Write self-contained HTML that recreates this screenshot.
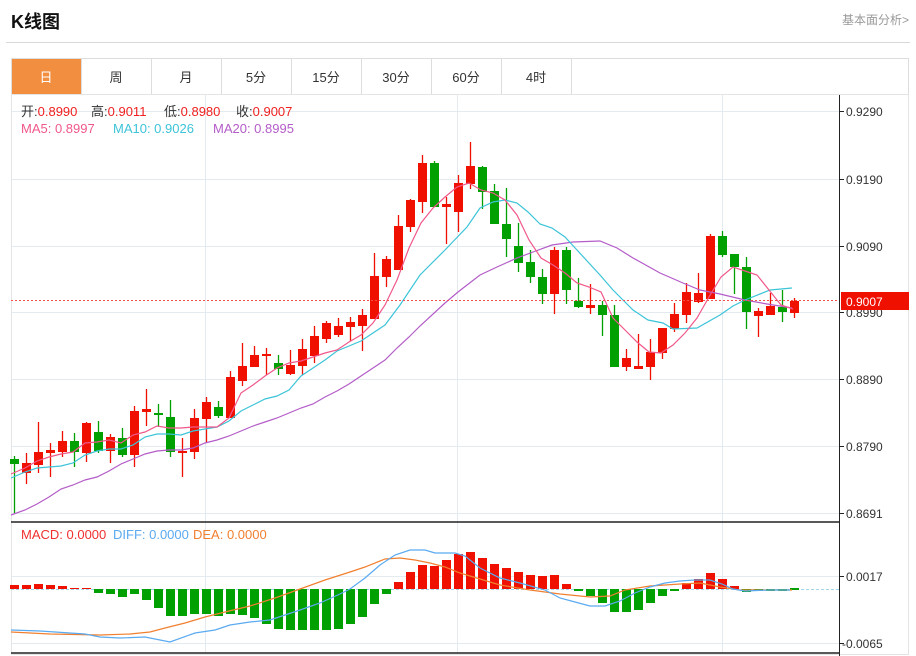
<!DOCTYPE html>
<html><head><meta charset="utf-8"><style>
body{margin:0;width:916px;height:656px;background:#fff;overflow:hidden;font-family:"Liberation Sans","Noto Sans CJK SC",sans-serif;}
</style></head><body>
<svg id="s" width="916" height="656" xmlns="http://www.w3.org/2000/svg" style="position:absolute;left:0;top:0;font-family:'Liberation Sans','Noto Sans CJK SC',sans-serif">
<text x="11" y="28" font-size="18" font-weight="bold" fill="#111">K线图</text>
<text x="842" y="24" font-size="12" fill="#999">基本面分析&gt;</text>
<line x1="6" y1="42.5" x2="910" y2="42.5" stroke="#d8d8d8"/>
<rect x="11.5" y="58.5" width="897" height="36" fill="#fff" stroke="#ddd"/>
<rect x="12" y="59" width="69" height="35" fill="#f28e3f"/>
<g stroke="#ddd"><line x1="81.5" y1="59" x2="81.5" y2="94"/><line x1="151.5" y1="59" x2="151.5" y2="94"/><line x1="221.5" y1="59" x2="221.5" y2="94"/><line x1="291.5" y1="59" x2="291.5" y2="94"/><line x1="361.5" y1="59" x2="361.5" y2="94"/><line x1="431.5" y1="59" x2="431.5" y2="94"/><line x1="501.5" y1="59" x2="501.5" y2="94"/><line x1="571.5" y1="59" x2="571.5" y2="94"/></g>
<g font-size="13" text-anchor="middle" fill="#333"><text x="46" y="82" fill="#fff">日</text><text x="116" y="82">周</text><text x="186" y="82">月</text><text x="256" y="82">5分</text><text x="326" y="82">15分</text><text x="396" y="82">30分</text><text x="466" y="82">60分</text><text x="536" y="82">4时</text></g>
<rect x="11.5" y="94.5" width="897" height="560" fill="none" stroke="#e4e4e4"/>
<g stroke="#e3eaf0"><line x1="11" y1="111.5" x2="839" y2="111.5"/><line x1="11" y1="179.5" x2="839" y2="179.5"/><line x1="11" y1="246.5" x2="839" y2="246.5"/><line x1="11" y1="312.5" x2="839" y2="312.5"/><line x1="11" y1="379.5" x2="839" y2="379.5"/><line x1="11" y1="446.5" x2="839" y2="446.5"/><line x1="11" y1="513.5" x2="839" y2="513.5"/><line x1="11" y1="576.5" x2="839" y2="576.5"/><line x1="11" y1="643.5" x2="839" y2="643.5"/><line x1="205.5" y1="95" x2="205.5" y2="653"/><line x1="457.5" y1="95" x2="457.5" y2="653"/><line x1="722.5" y1="95" x2="722.5" y2="653"/></g>
<line x1="11" y1="589.5" x2="839" y2="589.5" stroke="#9fd6ea" stroke-dasharray="3,2"/>
<g id="g"></g>
<line x1="11" y1="300.5" x2="839" y2="300.5" stroke="#f05050" stroke-dasharray="2,2"/>
<line x1="11" y1="522" x2="839" y2="522" stroke="#222" stroke-width="1.5"/>
<line x1="11" y1="653" x2="839" y2="653" stroke="#222" stroke-width="1.5"/>
<line x1="839.5" y1="95" x2="839.5" y2="656" stroke="#222"/>
<g stroke="#222"><line x1="839" y1="111.5" x2="844" y2="111.5"/><line x1="839" y1="179.5" x2="844" y2="179.5"/><line x1="839" y1="246.5" x2="844" y2="246.5"/><line x1="839" y1="312.5" x2="844" y2="312.5"/><line x1="839" y1="379.5" x2="844" y2="379.5"/><line x1="839" y1="446.5" x2="844" y2="446.5"/><line x1="839" y1="513.5" x2="844" y2="513.5"/><line x1="839" y1="576.5" x2="844" y2="576.5"/><line x1="839" y1="643.5" x2="844" y2="643.5"/></g>
<g font-size="12" fill="#333"><text x="846" y="116">0.9290</text><text x="846" y="184">0.9190</text><text x="846" y="251">0.9090</text><text x="846" y="317">0.8990</text><text x="846" y="384">0.8890</text><text x="846" y="451">0.8790</text><text x="846" y="518">0.8691</text><text x="846" y="581">0.0017</text><text x="842" y="648">-0.0065</text></g>
<rect x="841" y="292" width="68" height="18" fill="#f01000"/>
<text x="846" y="306" font-size="12" fill="#fff">0.9007</text>
<g font-size="13">
<text x="21" y="116" fill="#333">开:<tspan fill="#f02020">0.8990</tspan></text>
<text x="91" y="116" fill="#333">高:<tspan fill="#f02020">0.9011</tspan></text>
<text x="164" y="116" fill="#333">低:<tspan fill="#f02020">0.8980</tspan></text>
<text x="236" y="116" fill="#333">收:<tspan fill="#f02020">0.9007</tspan></text>
<text x="21" y="133" fill="#f0588a">MA5: 0.8997</text>
<text x="113" y="133" fill="#3cc4d8">MA10: 0.9026</text>
<text x="213" y="133" fill="#b45cc8">MA20: 0.8995</text>
<text x="21" y="539" fill="#f03030">MACD: 0.0000</text>
<text x="113" y="539" fill="#5aaaf0">DIFF: 0.0000</text>
<text x="193" y="539" fill="#f08030">DEA: 0.0000</text>
</g>
</svg>
<script>
var c=[[459,464,456,513,'g'],[463,473,453,484,'r'],[452,465,422,473,'r'],[450,453,443,477,'r'],[441,452,431,457,'r'],[441,452,433,467,'g'],[423,453,422,462,'r'],[432,451,421,453,'g'],[437,451,434,463,'r'],[438,455,428,457,'g'],[411,455,406,467,'r'],[409,412,389,426,'r'],[413,415,404,427,'g'],[417,452,400,457,'g'],[451,452,438,477,'r'],[418,452,409,459,'r'],[402,419,397,442,'r'],[407,416,401,418,'g'],[377,418,371,418,'r'],[366,381,343,386,'r'],[355,367,346,367,'r'],[354,356,348,375,'r'],[363,369,355,375,'g'],[365,374,350,375,'r'],[349,366,339,375,'r'],[336,356,326,363,'r'],[323,339,321,343,'r'],[326,335,318,337,'r'],[322,327,317,341,'r'],[315,326,309,351,'r'],[276,319,253,319,'r'],[259,277,256,287,'r'],[226,270,215,270,'r'],[200,227,199,232,'r'],[163,202,155,213,'r'],[163,207,161,207,'g'],[204,207,197,244,'r'],[183,212,175,232,'r'],[166,184,142,189,'r'],[167,192,166,209,'g'],[191,224,184,224,'g'],[224,239,188,257,'g'],[246,263,223,272,'g'],[262,277,250,283,'g'],[277,294,269,304,'g'],[250,294,247,314,'r'],[250,290,247,304,'g'],[301,307,278,308,'g'],[305,308,284,314,'r'],[305,315,301,336,'g'],[315,367,305,367,'g'],[358,367,349,371,'r'],[366,369,334,369,'r'],[352,367,339,380,'r'],[328,353,328,359,'r'],[314,329,303,332,'r'],[292,315,283,323,'r'],[293,302,273,303,'r'],[236,299,234,299,'r'],[236,255,231,257,'g'],[254,267,254,294,'g'],[267,312,257,329,'g'],[311,316,308,337,'r'],[306,315,293,315,'r'],[307,312,290,322,'g'],[301,313,298,318,'r']];
var m=[585,585,584,585,586,588,588,593,594,597,594,600,608,616,616,614,614,616,614,615,618,624,629,630,630,630,630,629,624,617,604,594,582,572,565,566,560,554,552,558,564,568,572,575,576,575,584,591,596,603,612,612,610,603,596,591,583,579,573,579,586,592,591,591,591,589];
var ma5=[[11,474],[25,468],[37,461],[49,457],[61,454],[73,452],[85,443],[97,442],[109,440],[121,443],[133,435],[145,432],[157,426],[169,428],[181,428],[193,427],[205,427],[217,427],[229,418],[241,393],[253,385],[265,376],[277,368],[289,363],[301,361],[313,357],[325,353],[337,350],[349,342],[361,335],[373,323],[385,305],[397,280],[409,248],[421,223],[433,208],[445,197],[457,187],[469,183],[481,190],[493,193],[505,200],[517,215],[529,240],[541,258],[553,265],[565,273],[577,283],[589,287],[601,292],[613,318],[625,330],[637,342],[649,352],[661,353],[673,345],[685,333],[697,318],[709,297],[721,277],[733,267],[745,271],[757,275],[769,290],[781,305],[793,309]];
var ma10=[[11,478],[25,472],[37,468],[49,467],[61,466],[73,463],[85,455],[97,451],[109,449],[121,449],[133,445],[145,437],[157,434],[169,434],[181,435],[193,431],[205,429],[217,427],[229,421],[241,411],[253,405],[265,399],[277,396],[289,390],[301,376],[313,368],[325,360],[337,351],[349,346],[361,341],[373,333],[385,325],[400,305],[420,275],[445,250],[467,227],[480,208],[493,202],[505,200],[517,203],[528,212],[540,224],[552,228],[565,237],[577,250],[600,275],[613,290],[633,310],[648,320],[663,323],[673,329],[697,328],[720,315],[733,306],[745,300],[770,290],[792,288]];
var ma20=[[11,515],[25,510],[37,504],[49,497],[61,489],[73,485],[85,480],[97,477],[109,471],[121,464],[133,459],[145,454],[157,451],[169,450],[181,450],[193,448],[205,443],[217,440],[229,436],[241,431],[253,426],[265,422],[277,418],[289,413],[301,408],[313,404],[325,397],[337,391],[349,384],[361,376],[373,368],[385,360],[397,348],[409,337],[420,326],[445,303],[458,292],[480,275],[497,267],[517,258],[533,252],[552,245],[573,242],[600,241],[617,248],[633,258],[660,273],[683,283],[700,290],[720,294],[745,300],[767,304],[792,308]];
var diff=[[11,630],[40,631],[70,633],[85,634],[100,637],[120,638],[145,637],[170,642],[195,633],[215,630],[230,625],[250,622],[270,620],[285,615],[300,610],[320,603],[340,594],[350,589],[365,578],[380,565],[395,555],[410,550],[425,550],[435,553],[455,553],[465,556],[480,568],[500,578],[520,583],[545,590],[560,598],[575,602],[590,606],[605,606],[620,601],[635,593],[650,587],[665,583],[680,581],[695,580],[710,580],[722,584],[733,589],[745,591],[770,590],[790,590]];
var dea=[[11,632],[50,634],[100,635],[130,634],[150,632],[165,628],[185,623],[205,617],[225,612],[250,606],[275,598],[300,589],[325,580],[350,572],[365,567],[385,559],[400,558],[415,560],[430,563],[445,567],[460,573],[480,579],[500,585],[530,590],[560,594],[590,597],[610,596],[625,590],[650,586],[680,584],[700,583],[720,587],[740,590],[792,590]];
var h='';
c.forEach(function(d,i){var x=14+i*12,col=d[4]=='r'?'#f01000':'#00a000';
h+='<line x1="'+(x+0.5)+'" y1="'+d[2]+'" x2="'+(x+0.5)+'" y2="'+d[3]+'" stroke="'+col+'" stroke-width="1.3"/>';
h+='<rect x="'+(x-4)+'" y="'+d[0]+'" width="9" height="'+Math.max(2,d[1]-d[0])+'" fill="'+col+'"/>';});
m.forEach(function(y,i){var x=14+i*12;var t=Math.min(y,589),b=Math.max(y,589);if(b-t<1){t=588;b=590;}
h+='<rect x="'+(x-4)+'" y="'+t+'" width="9" height="'+(b-t)+'" fill="'+(y<589?'#f01000':'#00a000')+'"/>';});
function pl(p,col){return '<polyline fill="none" stroke="'+col+'" stroke-width="1.2" points="'+p.map(function(q){return q.join(',')}).join(' ')+'"/>';}
h+=pl(ma20,'#b45cc8')+pl(ma10,'#3cc4d8')+pl(ma5,'#f0588a')+pl(dea,'#f08030')+pl(diff,'#5aaaf0');
document.getElementById('g').innerHTML=h;
</script>
</body></html>
